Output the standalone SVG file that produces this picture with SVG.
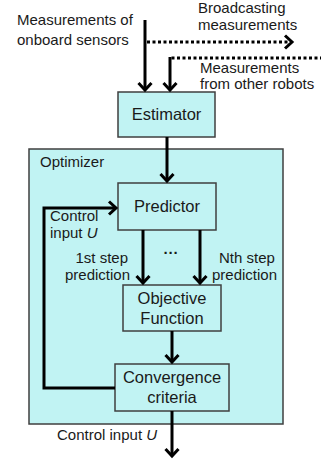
<svg xmlns="http://www.w3.org/2000/svg" width="321" height="461" viewBox="0 0 321 461">
<style>
.box{fill:#c1f3f3;stroke:#3f3f3f;stroke-width:1.5}
.t{font-family:"Liberation Sans",Arial,sans-serif;font-size:15px;fill:#1a1a1a}
.bt{font-family:"Liberation Sans",Arial,sans-serif;font-size:16.5px;fill:#1a1a1a;text-anchor:middle}
.ln{fill:none;stroke:#000;stroke-width:3}
.dot{fill:none;stroke:#000;stroke-width:3;stroke-dasharray:3 2.5}
</style>
<defs>
<marker id="ah" markerUnits="userSpaceOnUse" markerWidth="20" markerHeight="20" refX="0" refY="0" viewBox="-10 -10 20 20" orient="auto" overflow="visible">
<path d="M-7,-6.5 L0,0 L-7,6.5" fill="none" stroke="#000" stroke-width="3"/>
</marker>
</defs>
<rect width="321" height="461" fill="#fff"/>
<g id="optimizer">
<rect class="box" x="29" y="149" width="254" height="275"/>
<text class="t" x="40" y="167">Optimizer</text>
</g>
<g id="estimator">
<rect class="box" x="118" y="92" width="97" height="45"/>
<text class="bt" x="166.5" y="120">Estimator</text>
</g>
<g id="predictor">
<rect class="box" x="118" y="183" width="98" height="47"/>
<text class="bt" x="167" y="212">Predictor</text>
</g>
<g id="objective">
<rect class="box" x="123" y="285" width="98" height="46"/>
<text class="bt" x="172" y="304">Objective</text>
<text class="bt" x="172" y="324">Function</text>
</g>
<g id="convergence">
<rect class="box" x="115" y="364" width="114" height="47"/>
<text class="bt" x="172" y="383">Convergence</text>
<text class="bt" x="172" y="403">criteria</text>
</g>
<g id="connectors">
<path class="ln" d="M145,20 V90" marker-end="url(#ah)"/>
<path class="dot" d="M147,42 H290"/>
<path d="M285,35.5 L292,42 L285,48.5" fill="none" stroke="#000" stroke-width="3"/>
<path class="dot" d="M323,58 H170"/>
<path class="ln" d="M170,57 V90" marker-end="url(#ah)"/>
<path class="ln" d="M167,137 V181" marker-end="url(#ah)"/>
<path class="ln" d="M143,230 V283" marker-end="url(#ah)"/>
<path class="ln" d="M200,230 V283" marker-end="url(#ah)"/>
<path class="ln" d="M172,331 V362" marker-end="url(#ah)"/>
<path class="ln" d="M172,411 V456" marker-end="url(#ah)"/>
<path class="ln" d="M115,388 H44 V208 H116" marker-end="url(#ah)"/>
</g>
<g id="labels">
<text class="t" x="17" y="25">Measurements of</text>
<text class="t" x="17" y="45">onboard sensors</text>
<text class="t" x="198" y="13">Broadcasting</text>
<text class="t" x="198" y="30">measurements</text>
<text class="t" x="200" y="73">Measurements</text>
<text class="t" x="200" y="89">from  other robots</text>
<text class="t" x="50" y="221">Control</text>
<text class="t" x="50" y="238">input <tspan font-style="italic">U</tspan></text>
<text class="t" x="128" y="263" text-anchor="end">1st step</text>
<text class="t" x="130" y="280" text-anchor="end">prediction</text>
<text class="t" x="171" y="258" text-anchor="middle" font-weight="bold">···</text>
<text class="t" x="219" y="263">Nth step</text>
<text class="t" x="212" y="280">prediction</text>
<text class="t" x="57" y="440">Control input <tspan font-style="italic">U</tspan></text>
</g>
</svg>
